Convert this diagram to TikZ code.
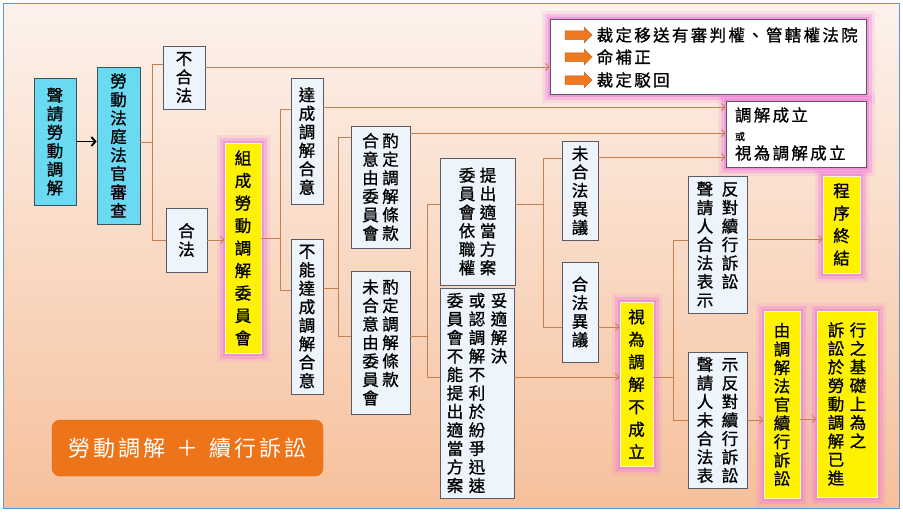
\documentclass[tikz,border=0pt]{standalone}
\usepackage{fontspec}
\newfontfamily\cjk[FakeBold=1]{Noto Sans CJK TC}
\newfontfamily\cjkwide[LetterSpace=14,FakeBold=1]{Noto Sans CJK TC}
\newfontfamily\cjktitle[LetterSpace=14]{Noto Sans CJK TC}
\usetikzlibrary{arrows.meta,shapes.arrows,positioning}

\definecolor{bgtop}{RGB}{252,242,236}
\definecolor{bgbot}{RGB}{246,192,155}
\definecolor{panelblue}{RGB}{90,150,210}
\definecolor{cyanfill}{RGB}{106,218,242}
\definecolor{cyanline}{RGB}{60,80,90}
\definecolor{boxfill}{RGB}{238,244,252}
\definecolor{boxline}{RGB}{90,90,100}
\definecolor{yelline}{RGB}{255,250,200}
\definecolor{glowpink}{RGB}{240,120,220}
\definecolor{linkc}{RGB}{196,128,80}
\definecolor{arrorange}{RGB}{240,120,30}
\definecolor{titleorange}{RGB}{238,116,26}

% one column of vertical text, fixed line pitch
\newcommand{\vcol}[1]{\vtop{\hsize=1em\parindent=0pt\lineskiplimit=-30pt\centering #1\par}}

\begin{document}
\begin{tikzpicture}[x=1pt, y=-1pt,
    box/.style={draw=boxline, fill=boxfill, line width=0.8pt, inner sep=0pt, font=\cjk\fontsize{16.5}{18.5}\selectfont},
    cyanbox/.style={box, fill=cyanfill, draw=cyanline},
    glow/.style={preaction={draw=glowpink, line width=17pt, opacity=0.15},
                 preaction={draw=glowpink, line width=11pt, opacity=0.3},
                 preaction={draw=glowpink, line width=5pt, opacity=0.5}},
    yelbox/.style={box, fill=yellow, draw=yelline, glow},
    whitebox/.style={box, fill=white, draw=boxline, glow},
    loose/.style={font=\cjk\fontsize{16.5}{22.5}\selectfont},
    link/.style={draw=linkc, line width=0.9pt},
    arrowlink/.style={link, -{Straight Barb[length=3.5pt,width=7pt]}},
    blackarr/.style={draw=black, line width=1.8pt, -{Straight Barb[length=4pt,width=9pt]}},
    blockarr/.style={single arrow, fill=arrorange, draw=arrorange!80!black, line width=0.5pt, minimum height=27pt, text height=4pt, text depth=4pt, text width=0pt, single arrow head extend=3.5pt, inner sep=0pt},
    linetext/.style={font=\cjkwide\fontsize{16.5}{18}\selectfont, inner sep=0pt},
    titlebox/.style={fill=titleorange, draw=titleorange!90!black, rounded corners=8pt, text=white, font=\cjktitle\fontsize{22}{24}\selectfont}
]
\useasboundingbox (0,0) rectangle (903,512);
\fill[white] (0,0) rectangle (903,512);
\draw[top color=bgtop, bottom color=bgbot, draw=panelblue, line width=0.8pt] (3,3) rectangle (899,508);

% left part
\node[cyanbox, minimum width=42pt, minimum height=127pt] (req) at (55,141.5) {\vcol{聲\\請\\勞\\動\\調\\解}};
\node[cyanbox, minimum width=43pt, minimum height=157pt] (judge) at (118.5,145.5) {\vcol{勞\\動\\法\\庭\\法\\官\\審\\查}};
\node[box, minimum width=42pt, minimum height=63pt] (illegal) at (184,77.5) {\vcol{不\\合\\法}};
\node[box, minimum width=41pt, minimum height=64pt] (legal) at (186.5,240) {\vcol{合\\法}};
\node[yelbox, loose, minimum width=36pt, minimum height=210pt] (comm) at (243,248) {\vcol{組\\成\\勞\\動\\調\\解\\委\\員\\會}};
\node[titlebox, minimum width=271pt, minimum height=56pt] (title) at (187.5,448) {勞動調解\hspace{11pt}＋\hspace{11pt}續行訴訟};

% middle part
\node[box, minimum width=32pt, minimum height=126pt] (agree) at (307,141) {\vcol{達\\成\\調\\解\\合\\意}};
\node[box, minimum width=32pt, minimum height=155pt] (noagree) at (307,316.5) {\vcol{不\\能\\達\\成\\調\\解\\合\\意}};
\node[box, minimum width=59pt, minimum height=122pt] (termsA) at (380.5,187) {\vcol{合\\意\\由\\委\\員\\會}\hspace{3.5pt}\vcol{酌\\定\\調\\解\\條\\款}};
\node[box, minimum width=59pt, minimum height=143pt] (termsB) at (380.5,342.5) {\vcol{未\\合\\意\\由\\委\\員\\會}\hspace{3.5pt}\vcol{酌\\定\\調\\解\\條\\款}};
\node[box, minimum width=75pt, minimum height=127pt] (propose) at (477.5,221.5) {\vcol{委\\員\\會\\依\\職\\權}\hspace{4.5pt}\vcol{提\\出\\適\\當\\方\\案}};
\node[box, minimum width=74pt, minimum height=210pt] (fail) at (477,393) {\vcol{委\\員\\會\\不\\能\\提\\出\\適\\當\\方\\案}\hspace{5.5pt}\vcol{或\\認\\調\\解\\不\\利\\於\\紛\\爭\\迅\\速}\hspace{5.5pt}\vcol{妥\\適\\解\\決}};
\node[box, minimum width=36pt, minimum height=99pt] (noobj) at (580,190.5) {\vcol{未\\合\\法\\異\\議}};
\node[box, minimum width=36pt, minimum height=100pt] (obj) at (580,312) {\vcol{合\\法\\異\\議}};

% right part
\node[yelbox, loose, minimum width=33pt, minimum height=164pt] (notformed) at (636.5,384) {\vcol{視\\為\\調\\解\\不\\成\\立}};
\node[box, minimum width=59pt, minimum height=137pt] (objlegal) at (717.5,244.5) {\vcol{聲\\請\\人\\合\\法\\表\\示}\hspace{8.5pt}\vcol{反\\對\\續\\行\\訴\\訟}};
\node[box, minimum width=59pt, minimum height=136pt] (objnot) at (717.5,420) {\vcol{聲\\請\\人\\未\\合\\法\\表}\hspace{8.5pt}\vcol{示\\反\\對\\續\\行\\訴\\訟}};
\node[yelbox, loose, minimum width=37pt, minimum height=97pt] (endproc) at (841.5,224.5) {\vcol{程\\序\\終\\結}};
\node[yelbox, minimum width=36pt, minimum height=187pt] (judgecont) at (782,404.5) {\vcol{由\\調\\解\\法\\官\\續\\行\\訴\\訟}};
\node[yelbox, minimum width=60pt, minimum height=186pt] (basis) at (847,404) {\vcol{訴\\訟\\於\\勞\\動\\調\\解\\已\\進}\hspace{5.5pt}\vcol{行\\之\\基\\礎\\上\\為\\之}};

% result boxes at the top
\node[whitebox, minimum width=316pt, minimum height=75pt] (rulings) at (708,56.5) {};
\node[blockarr] (ar1) at (576.5,35) {};
\node[blockarr] (ar2) at (576.5,57) {};
\node[blockarr] (ar3) at (576.5,80) {};
\node[linetext, right=4pt of ar1] (r1) {裁定移送有審判權、管轄權法院};
\node[linetext, right=4pt of ar2] (r2) {命補正};
\node[linetext, right=4pt of ar3] (r3) {裁定駁回};
\node[whitebox, minimum width=140pt, minimum height=66pt, text width=122pt, inner xsep=9pt, align=left, font=\cjkwide\fontsize{16.5}{19}\selectfont] (formed) at (796,134) {調解成立\\{\fontsize{10}{19}\selectfont 或}\\視為調解成立};

% connectors
\draw[blackarr] (req.east) -- (req.east -| judge.west);
\draw[link] ([yshift=3.5pt]judge.east) -- ++(12,0) coordinate (j1);
\draw[link] ([yshift=13.5pt]illegal.west) -| (j1) |- (legal.west);
\draw[arrowlink] ([yshift=10.5pt]illegal.east) -- ([yshift=10.5pt]illegal.east -| rulings.west);
\draw[arrowlink] (legal.east) -- (legal.east -| comm.west);

\draw[link] ([yshift=10pt]comm.east) -- ++(19,0) coordinate (j2);
\draw[link] ([yshift=32pt]agree.west) -| (j2) |- ([yshift=26.5pt]noagree.west);
\draw[arrowlink] ([yshift=34pt]agree.east) -- ([yshift=34pt]agree.east -| formed.west);

\draw[link] ([yshift=28.5pt]noagree.east) -- ++(15,0) coordinate (j3);
\draw[link] ([yshift=50pt]termsA.west) -| (j3) |- ([yshift=6.5pt]termsB.west);
\draw[arrowlink] ([yshift=54pt]termsA.east) -- ([yshift=54pt]termsA.east -| formed.west);

\draw[link] ([yshift=6.5pt]termsB.east) -- ++(17,0) coordinate (j4);
\draw[link] ([yshift=17.5pt]propose.west) -| (j4) |- ([yshift=16pt]fail.west);

\draw[link] ([yshift=17.5pt]propose.east) -- ++(28,0) coordinate (j5);
\draw[link] ([yshift=32.5pt]noobj.west) -| (j5) |- ([yshift=-15pt]obj.west);
\draw[arrowlink] ([yshift=33.5pt]noobj.east) -- ([yshift=33.5pt]noobj.east -| formed.west);
\draw[arrowlink] ([yshift=-15pt]obj.east) -- ([yshift=-15pt]obj.east -| notformed.west);
\draw[arrowlink] ([yshift=16pt]fail.east) -- ([yshift=16pt]fail.east -| notformed.west);

\draw[link] ([yshift=7pt]notformed.east) -- ++(20,0) coordinate (j6);
\draw[link] ([yshift=4.5pt]objlegal.west) -| (j6) |- (objnot.west);
\draw[arrowlink] ([yshift=5.5pt]objlegal.east) -- ([yshift=5.5pt]objlegal.east -| endproc.west);
\draw[arrowlink] (objnot.east) -- (objnot.east -| judgecont.west);
\draw[arrowlink] ([yshift=-14.5pt]judgecont.east) -- ([yshift=-14.5pt]judgecont.east -| basis.west);
\end{tikzpicture}
\end{document}
